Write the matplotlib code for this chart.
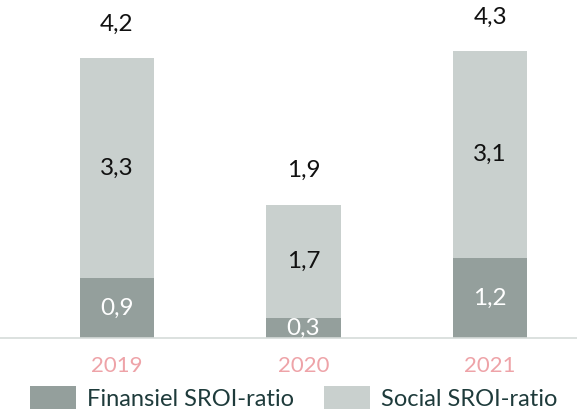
import matplotlib.pyplot as plt
import numpy as np

years = ['2019', '2020', '2021']
finansiel = [0.9, 0.3, 1.2]
social = [3.3, 1.7, 3.1]
totals = [4.2, 1.9, 4.3]

dark = '#949f9c'
light = '#c9d0ce'
pink = '#eea3a8'

plt.rcParams['font.family'] = ['Lato', 'DejaVu Sans']

fig = plt.figure(figsize=(5.77, 4.12), dpi=100)
ax = fig.add_axes([0, 0.18, 1, 0.82])

x = np.arange(len(years))
w = 0.40
b1 = ax.bar(x, finansiel, w, color=dark, label='Finansiel SROI-ratio')
b2 = ax.bar(x, social, w, bottom=finansiel, color=light, label='Social SROI-ratio')

def fmt(v):
    return f'{v:.1f}'.replace('.', ',')

for i in range(len(years)):
    ax.text(x[i], finansiel[i] / 2, fmt(finansiel[i]), ha='center', va='center',
            color='white', fontsize=17.5)
    ax.text(x[i], finansiel[i] + social[i] / 2, fmt(social[i]), ha='center', va='center',
            color='#111111', fontsize=17.5)
    ax.annotate(fmt(totals[i]), (x[i], finansiel[i] + social[i]), xytext=(0, 17),
                textcoords='offset points', ha='center', va='bottom',
                color='#111111', fontsize=17.5)

ax.set_xlim(-0.627, 2.466)
ax.set_ylim(0, 5.07)
ax.set_xticks(x)
ax.set_xticklabels(years, color=pink, fontsize=16)
ax.tick_params(axis='x', length=0, pad=13)
ax.set_yticks([])
for s in ['top', 'right', 'left']:
    ax.spines[s].set_visible(False)
ax.spines['bottom'].set_color('#d5dbd9')
ax.spines['bottom'].set_linewidth(1.2)

leg = fig.legend(handles=[b1, b2], loc='upper left', bbox_to_anchor=(0.052, 0.062),
                 ncol=2, frameon=False, fontsize=17, handlelength=1.95, handleheight=1.1,
                 handletextpad=0.45, columnspacing=1.3, borderpad=0, borderaxespad=0,
                 labelcolor='#1e3b3b')

fig.savefig('out.png', dpi=100)
